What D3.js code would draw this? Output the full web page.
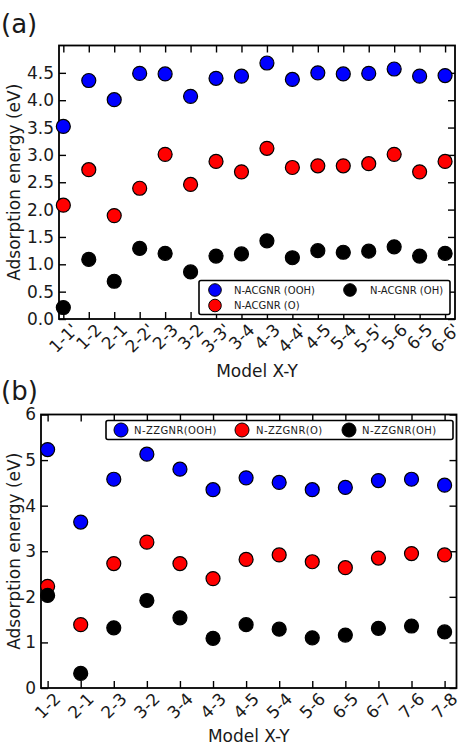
<!DOCTYPE html>
<html>
<head>
<meta charset="utf-8">
<script src="https://cdn.jsdelivr.net/npm/d3@7"></script>
<style>
  body { margin: 0; background: #fff; }
  text { font-family: "DejaVu Sans", sans-serif; fill: #1a1a1a; }
</style>
</head>
<body>
<svg id="chart" width="465" height="749"></svg>
<script>
// panel (a): N-ACGNR
var catsA = ["1-1'", "1-2", "2-1", "2-2'", "2-3", "3-2", "3-3'", "3-4", "4-3", "4-4'", "4-5", "5-4", "5-5'", "5-6", "6-5", "6-6'"];
var oohA = [3.52, 4.36, 4.01, 4.49, 4.48, 4.07, 4.40, 4.44, 4.68, 4.38, 4.50, 4.48, 4.49, 4.57, 4.44, 4.45];
var oA   = [2.08, 2.73, 1.89, 2.39, 3.01, 2.46, 2.88, 2.69, 3.12, 2.77, 2.80, 2.80, 2.84, 3.01, 2.69, 2.88];
var ohA  = [0.21, 1.09, 0.69, 1.29, 1.20, 0.86, 1.15, 1.19, 1.43, 1.12, 1.25, 1.22, 1.24, 1.32, 1.15, 1.20];
var ticksA = [0, 0.5, 1, 1.5, 2, 2.5, 3, 3.5, 4, 4.5];
var namesA = ["N-ACGNR (OOH)", "N-ACGNR (O)", "N-ACGNR (OH)"];

// panel (b): N-ZZGNR
var catsB = ["1-2", "2-1", "2-3", "3-2", "3-4", "4-3", "4-5", "5-4", "5-6", "6-5", "6-7", "7-6", "7-8"];
var oohB = [5.23, 3.64, 4.58, 5.13, 4.80, 4.35, 4.61, 4.51, 4.35, 4.40, 4.55, 4.58, 4.45];
var oB   = [2.23, 1.39, 2.73, 3.20, 2.73, 2.40, 2.82, 2.92, 2.77, 2.64, 2.85, 2.95, 2.92];
var ohB  = [2.03, 0.32, 1.32, 1.92, 1.54, 1.09, 1.39, 1.29, 1.10, 1.16, 1.31, 1.36, 1.23];
var ticksB = [0, 1, 2, 3, 4, 5, 6];
var namesB = ["N-ZZGNR(OOH)", "N-ZZGNR(O)", "N-ZZGNR(OH)"];

var colors = ["#0000ff", "#ff0000", "#000000"];

var svg = d3.select("#chart");

function drawPanel(p) {
  var g = svg.append("g");
  var x = d3.scaleLinear().domain(p.xDomain).range([p.left, p.right]);
  var y = d3.scaleLinear().domain(p.yDomain).range([p.bottom, p.top]);
  var idx = d3.range(p.cats.length);

  // ticks on all four sides, pointing inward
  g.append("g").attr("transform", "translate(0," + p.bottom + ")")
    .call(d3.axisBottom(x).tickValues(idx).tickSizeInner(-7).tickSizeOuter(0).tickFormat(""));
  g.append("g").attr("transform", "translate(0," + p.top + ")")
    .call(d3.axisTop(x).tickValues(idx).tickSizeInner(-7).tickSizeOuter(0).tickFormat(""));
  g.append("g").attr("transform", "translate(" + p.right + ",0)")
    .call(d3.axisRight(y).tickValues(p.yTicks).tickSizeInner(-7).tickSizeOuter(0).tickFormat(""));
  var ya = g.append("g").attr("transform", "translate(" + p.left + ",0)")
    .call(d3.axisLeft(y).tickValues(p.yTicks).tickSizeInner(-7).tickSizeOuter(0)
      .tickPadding(5).tickFormat(p.yFormat));
  g.selectAll(".domain").remove();
  g.selectAll(".tick line").attr("stroke", "#000").attr("stroke-width", 1.4);
  ya.selectAll("text").attr("font-size", 17).attr("font-family", "DejaVu Sans, sans-serif")
    .attr("fill", "#1a1a1a");

  // frame
  g.append("rect")
    .attr("x", p.left).attr("y", p.top)
    .attr("width", p.right - p.left).attr("height", p.bottom - p.top)
    .attr("fill", "none").attr("stroke", "#000").attr("stroke-width", 1.8);

  // rotated category labels, centred under each tick
  var fs = 17;
  idx.forEach(function(i) {
    var t = g.append("text").attr("font-size", fs).attr("text-anchor", "middle").text(p.cats[i]);
    var w = t.node().getComputedTextLength();
    var ext = (w * 0.93 + 0.73 * fs) / Math.SQRT2;
    var cx = x(i), cy = p.bottom + 4 + ext / 2;
    t.attr("x", cx).attr("y", cy).attr("dy", "0.36em")
      .attr("transform", "rotate(-45," + cx + "," + cy + ")");
  });

  // axis titles
  g.append("text").attr("x", (p.left + p.right) / 2).attr("y", p.xTitleY)
    .attr("text-anchor", "middle").attr("font-size", 17).text("Model X-Y");
  g.append("text").attr("transform", "translate(" + p.yTitleX + "," + (p.top + p.bottom) / 2 + ") rotate(-90)")
    .attr("text-anchor", "middle").attr("font-size", 17).text("Adsorption energy (eV)");

  // panel tag
  g.append("text").attr("x", 1).attr("y", p.tagY).attr("font-size", 26).text(p.tag);

  // points
  p.series.forEach(function(s, k) {
    g.append("g").selectAll("circle").data(s).join("circle")
      .attr("cx", function(d, i) { return x(i); })
      .attr("cy", function(d) { return y(d); })
      .attr("r", 7)
      .attr("fill", colors[k])
      .attr("stroke", "#000").attr("stroke-width", 1.2);
  });

  // legend
  var L = p.legend;
  var lg = g.append("g");
  lg.append("rect").attr("x", L.x).attr("y", L.y).attr("width", L.w).attr("height", L.h)
    .attr("rx", 2).attr("fill", "#fff").attr("stroke", "#000").attr("stroke-width", 1.6);
  L.items.forEach(function(it, k) {
    lg.append("circle").attr("cx", it[0]).attr("cy", it[1]).attr("r", L.r)
      .attr("fill", colors[k]).attr("stroke", "#000").attr("stroke-width", 1);
    lg.append("text").attr("x", it[2]).attr("y", it[1] + 3.6)
      .attr("font-size", L.fs).attr("letter-spacing", L.ls).text(p.names[k]);
  });
}

drawPanel({
  tag: "(a)", tagY: 33,
  cats: catsA, series: [oohA, oA, ohA], names: namesA,
  left: 59, right: 455, top: 45.5, bottom: 319,
  xDomain: [-0.17, 15.39], yDomain: [0, 5.0], yTicks: ticksA,
  yFormat: d3.format(".1f"),
  xTitleY: 377, yTitleX: 20,
  legend: { x: 199, y: 280.5, w: 251, h: 34, r: 6.3, fs: 10, ls: 0,
            items: [[215, 290, 234], [215, 305.5, 234], [350, 290, 370]] }
});

drawPanel({
  tag: "(b)", tagY: 400,
  cats: catsB, series: [oohB, oB, ohB], names: namesB,
  left: 41, right: 456.5, top: 414.5, bottom: 688,
  xDomain: [-0.2, 12.36], yDomain: [0, 6], yTicks: ticksB,
  yFormat: d3.format("d"),
  xTitleY: 742, yTitleX: 20,
  legend: { x: 106, y: 420.5, w: 347, h: 19, r: 7, fs: 10, ls: 0.4,
            items: [[121, 430, 134], [242, 430, 256], [349, 430, 362]] }
});
</script>
</body>
</html>
